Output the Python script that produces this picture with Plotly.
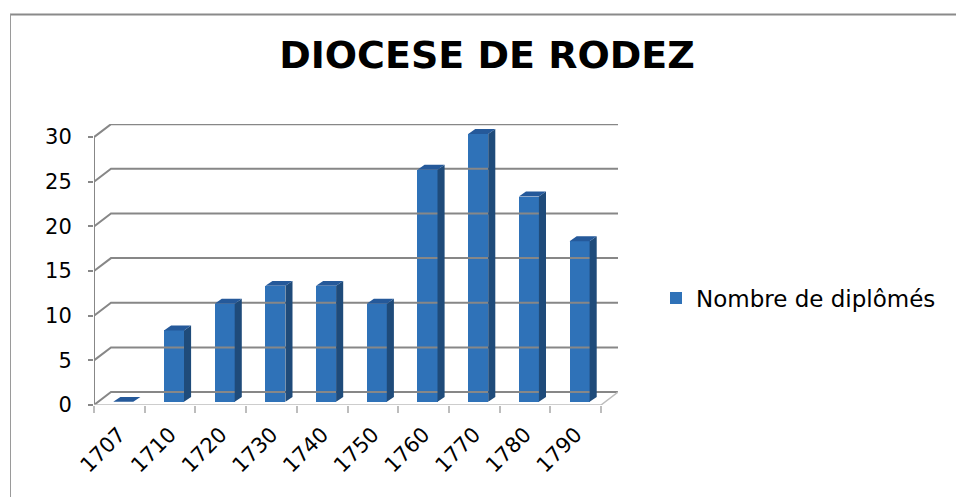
import plotly.graph_objects as go

# ---- data ----
years = ["1707", "1710", "1720", "1730", "1740", "1750", "1760", "1770", "1780", "1790"]
values = [0, 8, 11, 13, 13, 11, 26, 30, 23, 18]
y_ticks = [0, 5, 10, 15, 20, 25, 30]
series_name = "Nombre de diplômés"
title_text = "DIOCESE DE RODEZ"

# ---- style / geometry constants ----
DXW, DYW = 0.335, 1.45       # back-wall depth offset (category units, value units)
BAR_L, BAR_W = 0.38, 0.395   # bar front face position within its category
BAR_BASE = 0.35
DXB, DYB = 0.14, 0.55        # bar depth offset
FRONT = "#2F72B8"
SIDE = "#1F4B7A"
TOP = "#25599A"
GRID = "#878787"
LIGHT = "#BDBDBD"
n = len(years)

fig = go.Figure()

# back wall gridlines + left wall diagonals
gx, gy = [], []
for v in y_ticks:
    gx += [0, DXW, n + DXW, None]
    gy += [v, v + DYW, v + DYW, None]
fig.add_trace(go.Scatter(x=gx, y=gy, mode="lines", line=dict(color=GRID, width=2),
                         showlegend=False, hoverinfo="skip", cliponaxis=False))
# front vertical axis line
fig.add_trace(go.Scatter(x=[0, 0], y=[0, y_ticks[-1]], mode="lines",
                         line=dict(color=GRID, width=2), showlegend=False,
                         hoverinfo="skip", cliponaxis=False))
# floor front edge and right diagonal
fig.add_trace(go.Scatter(x=[0, n, n + DXW], y=[0, 0, DYW], mode="lines",
                         line=dict(color=LIGHT, width=1.5), showlegend=False,
                         hoverinfo="skip", cliponaxis=False))

# bar front faces
fig.add_trace(go.Bar(x=[i + BAR_L + BAR_W / 2 for i in range(n)], y=values,
                     base=[BAR_BASE] * n, width=BAR_W, name=series_name,
                     marker=dict(color=FRONT, line=dict(width=0)), showlegend=True))

# side faces
sx, sy = [], []
for i, v in enumerate(values):
    xr = i + BAR_L + BAR_W
    b = BAR_BASE
    sx += [xr, xr + DXB, xr + DXB, xr, xr, None]
    sy += [b, b + DYB, b + v + DYB, b + v, b, None]
fig.add_trace(go.Scatter(x=sx, y=sy, mode="lines", fill="toself", fillcolor=SIDE,
                         line=dict(width=0, color=SIDE), showlegend=False,
                         hoverinfo="skip", cliponaxis=False))
# top faces
tx, ty = [], []
for i, v in enumerate(values):
    xl = i + BAR_L
    xr = xl + BAR_W
    t = BAR_BASE + v
    tx += [xl, xl + DXB, xr + DXB, xr, xl, None]
    ty += [t, t + DYB, t + DYB, t, t, None]
fig.add_trace(go.Scatter(x=tx, y=ty, mode="lines", fill="toself", fillcolor=TOP,
                         line=dict(width=0, color=TOP), showlegend=False,
                         hoverinfo="skip", cliponaxis=False))

W, H = 956, 497
L, R, T, B = 94, 338, 124, 92
pw, ph = W - L - R, H - T - B

def px_x(p):
    return (p - L) / pw

def px_y(p):
    return (H - B - p) / ph

fig.update_layout(
    width=W, height=H,
    margin=dict(l=L, r=R, t=T, b=B, pad=0),
    paper_bgcolor="white", plot_bgcolor="rgba(0,0,0,0)",
    font=dict(family="DejaVu Sans", color="black"),
    title=dict(text="<b>" + title_text + "</b>", x=px_x(487), xref="paper",
               xanchor="center", y=1 - 55 / H, yref="container", yanchor="middle",
               font=dict(family="DejaVu Sans", size=38, color="black")),
    xaxis=dict(range=[0, n + DXW], tickvals=[i + 0.5 for i in range(n)], ticktext=years,
               tickangle=-45, ticks="", showgrid=False, zeroline=False, showline=False,
               tickfont=dict(size=21, color="black"), ticklabelstandoff=12,
               minor=dict(tickvals=list(range(n + 1)), ticks="outside", ticklen=7,
                          tickcolor=LIGHT, tickwidth=1.5, showgrid=False)),
    yaxis=dict(range=[0, 31.47], tickvals=y_ticks, ticks="outside", ticklen=5,
               tickcolor=GRID, tickwidth=1.5, showgrid=False, zeroline=False,
               showline=False, tickfont=dict(size=21, color="black"),
               ticklabelstandoff=12),
    legend=dict(x=px_x(656), y=px_y(298), xanchor="left", yanchor="middle",
                font=dict(size=23, color="black"), bgcolor="rgba(0,0,0,0)"),
    bargap=0,
    shapes=[
        dict(type="line", xref="paper", yref="paper", x0=px_x(10), x1=px_x(960),
             y0=px_y(14.5), y1=px_y(14.5), line=dict(color="#8A8A8A", width=2)),
        dict(type="line", xref="paper", yref="paper", x0=px_x(10.5), x1=px_x(10.5),
             y0=px_y(14), y1=px_y(500), line=dict(color="#9A9A9A", width=1)),
    ],
)

fig.write_html("out.html", config={"displayModeBar": False},
               post_script="document.body.style.margin='0';document.body.style.overflow='hidden';")
